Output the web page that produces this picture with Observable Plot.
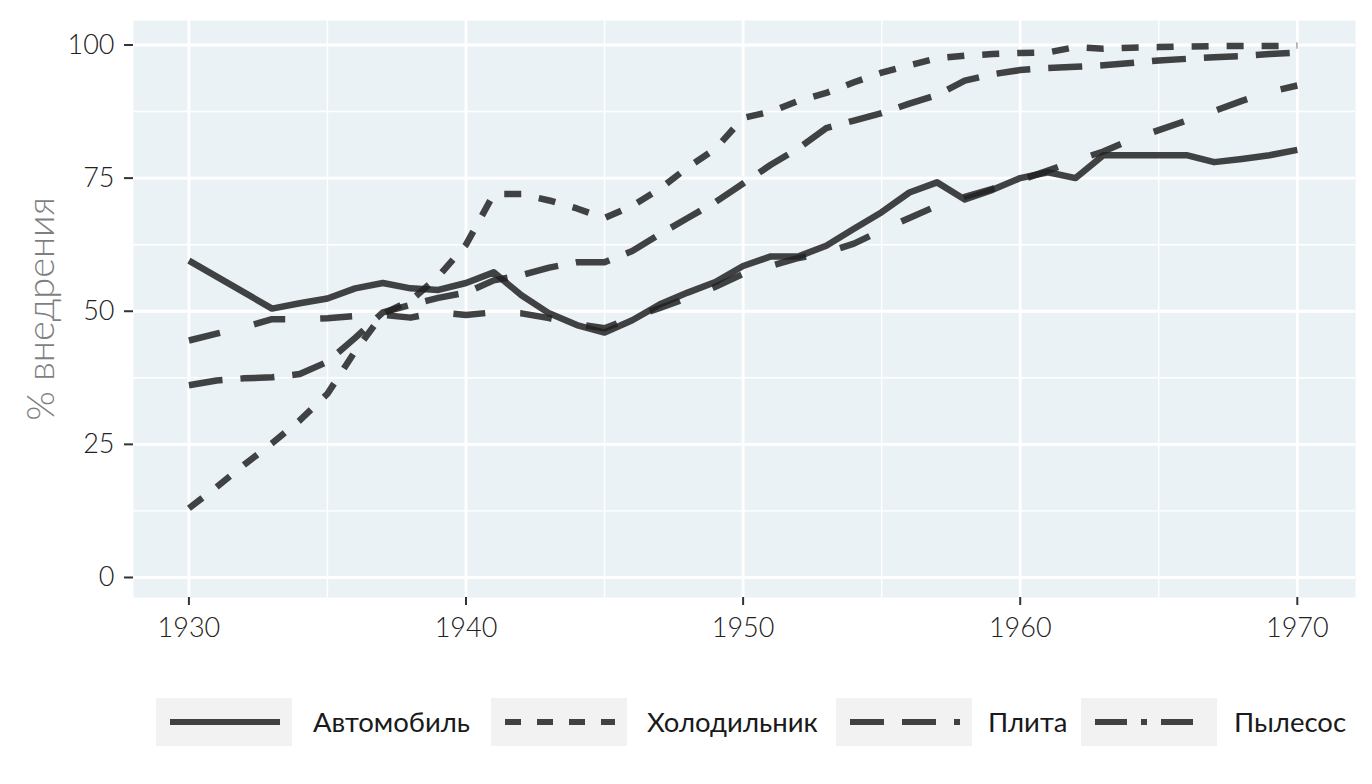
<!DOCTYPE html>
<html><head><meta charset="utf-8">
<script src="https://cdn.jsdelivr.net/npm/d3@7"></script>
<script src="https://cdn.jsdelivr.net/npm/@observablehq/plot@0.6"></script>
<style>
body{margin:0;background:#fff;font-family:Lato,sans-serif;}
#wrap{position:relative;width:1372px;height:784px;overflow:hidden;}
#chart{position:absolute;left:0;top:0;}
.key{position:absolute;top:698px;height:48px;background:#F2F2F2;}
.lab{position:absolute;top:698px;height:48px;line-height:48px;font-size:27.5px;font-weight:400;color:#1a1a1a;white-space:nowrap;}
</style></head><body><div id="wrap"><div id="chart"></div></div>
<script>
const years = d3.range(1930, 1971);
const seriesNames = ["Автомобиль", "Холодильник", "Плита", "Пылесос"];
const car = [59.5, null, null, 50.5, 51.5, 52.4, 54.3, 55.3, 54.3, 54, 55.3, 57.3, 53, 49.6, 47.4, 46, 48.3, 51.3, 53.5, 55.5, 58.5, 60.3, 60.3, 62.3, 65.5, 68.6, 72.3, 74.2, 71, 72.8, 75, 76.1, 75, 79.3, 79.3, 79.3, 79.3, 78, 78.6, 79.3, 80.3];
const fridge = [13, 17, 21.2, 25.2, 29.5, 34.5, 42.5, 49.5, 52, 56.5, 62.5, 72, 72, 70.8, 69.3, 67.5, 69.8, 73, 77, 80.5, 86.3, 87.5, 89.5, 91, 93, 94.8, 96.2, 97.5, 98, 98.3, 98.5, 98.6, 99.6, 99.3, 99.5, 99.6, 99.7, 99.8, 99.8, 99.8, 99.9];
const stove = [36.1, 37, 37.4, 37.6, 38.2, 40.5, 45, 49.8, 51.2, 52.5, 53.5, 55.8, 56.8, 58.2, 59.2, 59.2, 61.3, 64.5, 67.5, 70.5, 74, 77.5, 80.6, 84.4, 85.8, 87.2, 89, 90.6, 93.3, 94.5, 95.3, 95.7, 95.9, 96.2, 96.6, 97.1, 97.4, 97.7, 97.9, 98.3, 98.6];
const vacuum = [44.5, 45.8, 47, 48.5, 48.5, 48.7, 49.1, 49.3, 48.8, 49.8, 49.3, 49.8, 49.6, 48.7, 47.6, 46.8, 48.8, 50.6, 52.5, 54.6, 57, 58.5, 60, 61, 62.7, 65.2, 67.5, 69.8, 71.5, 73, 74.6, 76.4, 78.3, 80, 82.2, 84, 85.8, 87.6, 89.5, 91.2, 92.4];
const xTicks = [1930, 1940, 1950, 1960, 1970];
const xMinor = [1935, 1945, 1955, 1965];
const yTicks = [0, 25, 50, 75, 100];
const yMinor = [12.5, 37.5, 62.5, 87.5];
const yLabel = "% внедрения";

const values = [car, fridge, stove, vacuum];
const dashes = [null, "17,18", "34,18", "32,35"];
const legendDashes = [null, "16,16", "34,18", "32,14,6,14"];

const tables = values.map((vals, i) =>
  years.map((year, j) => ({year, value: vals[j], series: seriesNames[i]})).filter(d => d.value != null));

const lineMarks = tables.map((t, i) => Plot.line(t, {
  x: "year", y: "value", stroke: "#222", strokeOpacity: 0.85, strokeWidth: 6.5,
  strokeLinejoin: "round", strokeLinecap: "butt",
  ...(dashes[i] ? {strokeDasharray: dashes[i]} : {})
}));

const chart = Plot.plot({
  width: 1372, height: 665,
  marginTop: 20, marginBottom: 68, marginLeft: 133, marginRight: 17,
  style: {fontFamily: "Lato, sans-serif", fontSize: "27px", fontWeight: 300, color: "#222", background: "transparent"},
  x: {domain: [1928, 1972.1]},
  y: {domain: [-3.76, 104.6]},
  marks: [
    Plot.frame({fill: "#EAF2F6", stroke: null}),
    Plot.gridY(yMinor, {stroke: "#fff", strokeOpacity: 1, strokeWidth: 1.4}),
    Plot.gridX(xMinor, {stroke: "#fff", strokeOpacity: 1, strokeWidth: 1.4}),
    Plot.gridY(yTicks, {stroke: "#fff", strokeOpacity: 1, strokeWidth: 2.8}),
    Plot.gridX(xTicks, {stroke: "#fff", strokeOpacity: 1, strokeWidth: 2.8}),
    ...lineMarks,
    Plot.axisX(xTicks, {tickFormat: d => String(d), tickSize: 8, tickPadding: 12, stroke: "#333", fill: "#222", strokeWidth: 2, fontSize: 27, label: null}),
    Plot.axisY(yTicks, {tickFormat: d => String(d), tickSize: 9, tickPadding: 10, stroke: "#333", fill: "#222", strokeWidth: 2, fontSize: 27, label: null}),
    Plot.text([yLabel], {text: d => d, frameAnchor: "left", textAnchor: "middle", lineAnchor: "middle", dx: -92, rotate: -90, fontSize: 38, fill: "#7f7f7f"})
  ]
});
const wrap = document.getElementById("wrap");
document.getElementById("chart").appendChild(chart);

const keyLeft = [156, 491, 836, 1081];
const labLeft = [313, 647, 988, 1234];
seriesNames.forEach((name, i) => {
  const key = document.createElement("div");
  key.className = "key";
  key.style.left = keyLeft[i] + "px";
  key.style.width = "136px";
  const svg = d3.create("svg").attr("width", 136).attr("height", 48);
  const ln = svg.append("line").attr("x1", 14).attr("x2", 124).attr("y1", 24).attr("y2", 24)
    .attr("stroke", "#222").attr("stroke-opacity", 0.85).attr("stroke-width", 6);
  if (legendDashes[i]) ln.attr("stroke-dasharray", legendDashes[i]);
  key.appendChild(svg.node());
  wrap.appendChild(key);
  const lab = document.createElement("div");
  lab.className = "lab";
  lab.style.left = labLeft[i] + "px";
  lab.textContent = name;
  wrap.appendChild(lab);
});
</script></body></html>
